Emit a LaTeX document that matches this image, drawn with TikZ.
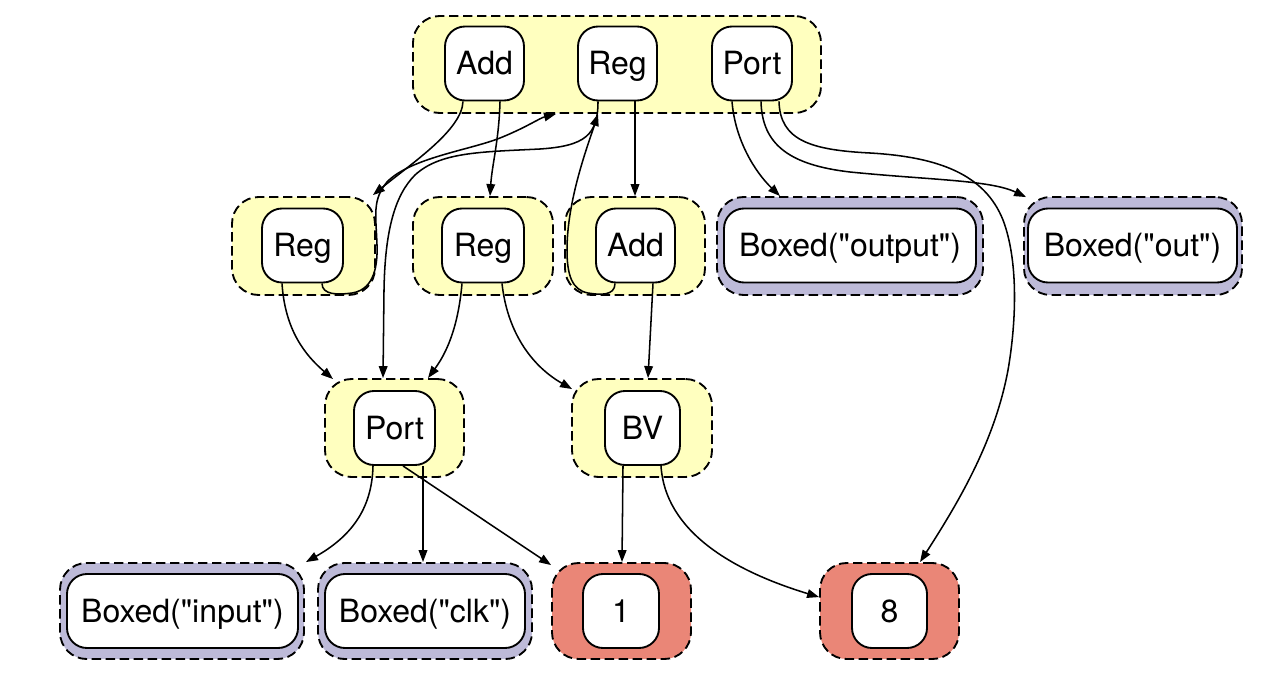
\documentclass[tikz,border=0pt]{standalone}
\usepackage{fontspec}
\setmainfont{TeX Gyre Heros}[Ligatures=TeXOff]
\usetikzlibrary{arrows.meta,calc}
\newdimen\pxu \pxu=0.75pt
\definecolor{cy}{HTML}{FFFFBF}
\definecolor{cp}{HTML}{BDBAD8}
\definecolor{cr}{HTML}{EA8677}
\begin{document}
\begin{tikzpicture}[x=0.75pt,y=-0.75pt,
  clus/.style={draw=black, dash pattern=on 7pt off 3.5pt, rounded corners=20pt, line width=1.4pt, inner sep=0pt, minimum height=97\pxu},
  enode/.style={draw=black, fill=white, rounded corners=15pt, line width=1.4pt, inner sep=0pt, minimum height=74\pxu, text height=17.2pt, text depth=0pt, font=\fontsize{24}{28}\selectfont},
  edge/.style={line width=1.15pt, -{Triangle[length=9pt,width=6.5pt]}}
]
\useasboundingbox (0,0) rectangle (1262,678);

% clusters
\node[clus, fill=cy, minimum width=408\pxu] (tc) at (617,64.5) {};
\node[clus, fill=cy, minimum width=143\pxu, minimum height=98\pxu] (regLc) at (303.5,246) {};
\node[clus, fill=cy, minimum width=140\pxu, minimum height=98\pxu] (regMc) at (483,246) {};
\node[clus, fill=cy, minimum width=140\pxu, minimum height=98\pxu] (addMc) at (635,246) {};
\node[clus, fill=cp, minimum width=266\pxu, minimum height=98\pxu] (outputBc) at (850,246) {};
\node[clus, fill=cp, minimum width=218\pxu, minimum height=98\pxu] (outBc) at (1133,246) {};
\node[clus, fill=cy, minimum width=139\pxu, minimum height=98\pxu] (portBc) at (394.5,428) {};
\node[clus, fill=cy, minimum width=140\pxu, minimum height=98\pxu] (bvc) at (642,428) {};
\node[clus, fill=cp, minimum width=244\pxu, minimum height=96\pxu] (inputBc) at (182,611) {};
\node[clus, fill=cp, minimum width=214\pxu, minimum height=96\pxu] (clkBc) at (425,611) {};
\node[clus, fill=cr, minimum width=139\pxu, minimum height=96\pxu] (onec) at (621.5,611) {};
\node[clus, fill=cr, minimum width=139\pxu, minimum height=96\pxu] (eightc) at (889.5,611) {};

% e-nodes
\node[enode, minimum width=79\pxu] (addT) at (484.5,63.5) {Add};
\node[enode, minimum width=79\pxu] (regT) at (617.5,63.5) {Reg};
\node[enode, minimum width=80\pxu] (portT) at (752,63.5) {Port};
\node[enode, minimum width=81\pxu] (regL) at (302.5,245.5) {Reg};
\node[enode, minimum width=82\pxu] (regM) at (483,245.5) {Reg};
\node[enode, minimum width=79\pxu] (addM) at (635.5,245.5) {Add};
\node[enode, minimum width=252\pxu] (outputB) at (850,245.5) {Boxed("output")};
\node[enode, minimum width=209\pxu] (outB) at (1132.5,245.5) {Boxed("out")};
\node[enode, minimum width=81\pxu] (portB) at (394.5,428) {Port};
\node[enode, minimum width=75\pxu] (bv) at (642.5,428) {BV};
\node[enode, minimum width=231\pxu] (inputB) at (182.5,611) {Boxed("input")};
\node[enode, minimum width=200\pxu] (clkB) at (425,611) {Boxed("clk")};
\node[enode, minimum width=76\pxu] (one) at (621,611) {1};
\node[enode, minimum width=75\pxu] (eight) at (889.5,611) {8};

% edges
\draw[edge] ($(addT.south)+(-21.5,0)$) .. controls (462,130) and (412,163) .. ($(regLc.north east)+(-3,-1)$);
\draw[edge] ($(addT.south)+(15.5,0)$) .. controls (499,140) and (492,165) .. ($(regMc.north)+(7,0)$);
\draw[edge] ($(regT.south)+(17.5,0)$) -- ($(addMc.north)+(0,0)$);
\draw[edge] ($(regT.south)+(-19.5,0)$) .. controls (598,135) and (585,146) .. (540,149)
   .. controls (480,152) and (440,152) .. (415,175)
   .. controls (395,195) and (385,230) .. (384,290) -- ($(portBc.north)+(-11.5,0)$);
\draw[edge] ($(regL.south)+(19.5,0)$) .. controls (322,295) and (338,295) .. (352,293)
   .. controls (371,290) and (378,272) .. (377,245)
   .. controls (376,215) and (372,200) .. (387,182)
   .. controls (410,158) and (470,150) .. (500,138)
   .. controls (525,128) and (540,118) .. ($(tc.south)+(-61,0)$);
\draw[edge] ($(addM.south)+(-20.5,0)$) .. controls (615,296) and (600,295) .. (588,293)
   .. controls (572,290) and (567,275) .. (567,250)
   .. controls (567,200) and (588,145) .. ($(tc.south)+(-19,0)$);
\draw[edge] ($(portT.south)+(-20,0)$) .. controls (735,140) and (755,172) .. ($(outputBc.north)+(-70,0)$);
\draw[edge] ($(portT.south)+(9,0)$) .. controls (762,145) and (790,165) .. (850,172)
   .. controls (930,180) and (990,180) .. ($(outBc.north west)+(3,1)$);
\draw[edge] ($(portT.south)+(27,0)$) .. controls (780,140) and (810,150) .. (870,153)
   .. controls (940,157) and (985,175) .. (1003,220)
   .. controls (1020,265) and (1015,330) .. (1008,370)
   .. controls (995,440) and (960,500) .. ($(eightc.north)+(30.5,0)$);
\draw[edge] ($(regL.south)+(-20.5,0)$) .. controls (285,330) and (305,355) .. ($(portBc.north)+(-61.5,1)$);
\draw[edge] ($(regM.south)+(-21,0)$) .. controls (458,330) and (445,355) .. ($(portBc.north)+(33.5,0)$);
\draw[edge] ($(regM.south)+(19,0)$) .. controls (507,330) and (530,365) .. ($(bvc.north west)+(1,11)$);
\draw[edge] ($(addM.south)+(17.5,0)$) -- ($(bvc.north)+(6,0)$);
\draw[edge] ($(portB.south)+(-21.5,0)$) .. controls (372,510) and (350,537) .. ($(inputBc.north east)+(1,0)$);
\draw[edge] ($(portB.south)+(28.5,0)$) -- ($(clkBc.north)+(-2,0)$);
\draw[edge] ($(portB.south)+(8.5,0)$) -- ($(onec.north west)+(0,3)$);
\draw[edge] ($(bv.south)+(-19.5,0)$) -- ($(onec.north)+(0.5,0)$);
\draw[edge] ($(bv.south)+(18.5,0)$) .. controls (665,530) and (730,570) .. ($(eightc.north west)+(0,35)$);
\end{tikzpicture}
\end{document}
